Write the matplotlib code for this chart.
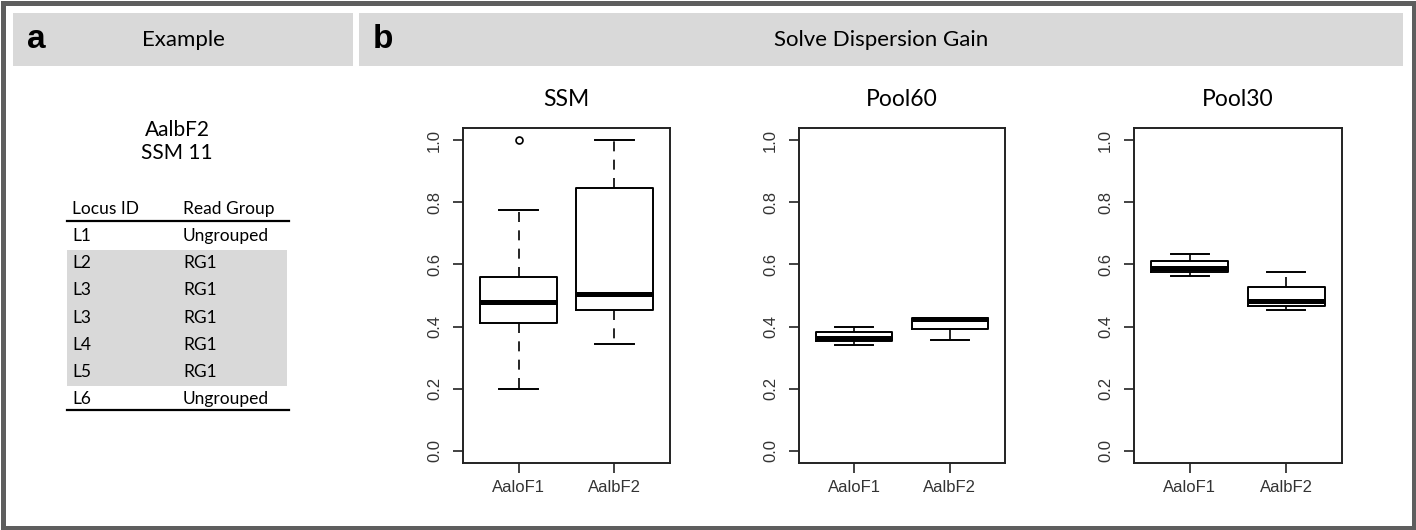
import matplotlib.pyplot as plt
import matplotlib.patches as patches
from matplotlib.lines import Line2D

# ── DATA ─────────────────────────────────────────────────────────────────────
groups = ["AaloF1", "AalbF2"]
panels = ["SSM", "Pool60", "Pool30"]

# box stats: low whisker, q1, median, q3, high whisker
ssm_low    = [0.200, 0.345]
ssm_q1     = [0.410, 0.453]
ssm_med    = [0.478, 0.506]
ssm_q3     = [0.560, 0.845]
ssm_high   = [0.775, 1.000]
ssm_out    = [[1.0], []]

pool60_low  = [0.339, 0.357]
pool60_q1   = [0.352, 0.391]
pool60_med  = [0.364, 0.423]
pool60_q3   = [0.381, 0.428]
pool60_high = [0.400, 0.428]
pool60_out  = [[], []]

pool30_low  = [0.562, 0.452]
pool30_q1   = [0.575, 0.466]
pool30_med  = [0.589, 0.483]
pool30_q3   = [0.612, 0.528]
pool30_high = [0.635, 0.577]
pool30_out  = [[], []]

yticks = [0.0, 0.2, 0.4, 0.6, 0.8, 1.0]

# example table (panel a)
example_title = ["AalbF2", "SSM 11"]
table_header = ["Locus ID", "Read Group"]
locus_ids = ["L1", "L2", "L3", "L3", "L4", "L5", "L6"]
read_groups = ["Ungrouped", "RG1", "RG1", "RG1", "RG1", "RG1", "Ungrouped"]

# ── LAYOUT HELPERS ───────────────────────────────────────────────────────────
W, H = 1416, 530
HEAD_GRAY = "#d9d9d9"
BORDER = "#5e5e5e"
INK = "#222222"


def fx(x):
    return x / W


def fy(y):
    return 1 - y / H


fig = plt.figure(figsize=(W / 100, H / 100), dpi=100)

# outer frame
fig.patches.append(patches.Rectangle((fx(2.5), fy(527.5)), fx(W - 5), (H - 5) / H,
                                     transform=fig.transFigure, fill=False,
                                     edgecolor=BORDER, linewidth=3.6))

# header bars
for x0, x1 in [(13, 353), (359, 1403)]:
    fig.patches.append(patches.Rectangle((fx(x0), fy(66)), fx(x1 - x0), 53 / H,
                                         transform=fig.transFigure,
                                         facecolor=HEAD_GRAY, edgecolor="none"))

fig.text(fx(27), fy(40), "a", fontsize=24, fontweight="bold",
         family="Liberation Sans", va="center", ha="left")
fig.text(fx(373), fy(40), "b", fontsize=24, fontweight="bold",
         family="Liberation Sans", va="center", ha="left")
fig.text(fx(183), fy(40), "Example", fontsize=16, family="Lato",
         va="center", ha="center")
fig.text(fx(881), fy(40), "Solve Dispersion Gain", fontsize=16, family="Lato",
         va="center", ha="center")

# ── PANEL A: EXAMPLE TABLE ───────────────────────────────────────────────────
fig.text(fx(177), fy(130), example_title[0], fontsize=15, family="Lato",
         ha="center", va="center")
fig.text(fx(177), fy(153), example_title[1], fontsize=15, family="Lato",
         ha="center", va="center")

col_x = [72, 183]
row0, row_step = 236, 27.2
fig.text(fx(col_x[0]), fy(209), table_header[0], fontsize=12.5, family="Lato", va="center")
fig.text(fx(col_x[1]), fy(209), table_header[1], fontsize=12.5, family="Lato", va="center")

# shade the grouped rows
rg_rows = [i for i, g in enumerate(read_groups) if g != "Ungrouped"]
top = row0 + (rg_rows[0] - 0.5) * row_step
bot = row0 + (rg_rows[-1] + 0.5) * row_step
fig.patches.append(patches.Rectangle((fx(67), fy(bot)), fx(287 - 67), (bot - top) / H,
                                     transform=fig.transFigure,
                                     facecolor=HEAD_GRAY, edgecolor="none"))

for i, (loc, rg) in enumerate(zip(locus_ids, read_groups)):
    y = row0 + i * row_step
    fig.text(fx(col_x[0]), fy(y), loc, fontsize=12.5, family="Lato", va="center")
    fig.text(fx(col_x[1]), fy(y), rg, fontsize=12.5, family="Lato", va="center")

for y in [221, 410]:
    fig.lines.append(Line2D([fx(67), fx(289)], [fy(y), fy(y)],
                            transform=fig.transFigure, color="black", linewidth=1.6))

# ── PANEL B: BOXPLOTS ────────────────────────────────────────────────────────
panel_data = {
    "SSM": (ssm_low, ssm_q1, ssm_med, ssm_q3, ssm_high, ssm_out),
    "Pool60": (pool60_low, pool60_q1, pool60_med, pool60_q3, pool60_high, pool60_out),
    "Pool30": (pool30_low, pool30_q1, pool30_med, pool30_q3, pool30_high, pool30_out),
}
axes_left = [463, 799, 1134]
axes_w = [207, 206, 208]

for name, left, width in zip(panels, axes_left, axes_w):
    ax = fig.add_axes([fx(left), fy(463), fx(width), (463 - 128) / H])
    lo, q1, med, q3, hi, out = panel_data[name]
    stats = [dict(whislo=lo[i], q1=q1[i], med=med[i], q3=q3[i], whishi=hi[i],
                  fliers=out[i], label=groups[i]) for i in range(len(groups))]
    ax.bxp(stats, positions=[1, 2], widths=0.8, capwidths=0.4,
           boxprops=dict(color="black", linewidth=1.4),
           whiskerprops=dict(color="black", linewidth=1.2, linestyle=(0, (6, 5))),
           capprops=dict(color="black", linewidth=1.4),
           medianprops=dict(color="black", linewidth=3.6, solid_capstyle="butt"),
           flierprops=dict(marker="o", markersize=5, markerfacecolor="none",
                           markeredgecolor="black", markeredgewidth=1.2))
    ax.set_xlim(0.42, 2.58)
    ax.set_ylim(-0.04, 1.04)
    ax.set_yticks(yticks)
    ax.set_yticklabels([f"{t:.1f}" for t in yticks])
    ax.set_xticks([1, 2])
    ax.set_xticklabels(groups)
    ax.tick_params(direction="out", length=7, width=1.2, colors=INK,
                   labelsize=12, pad=5)
    ax.tick_params(axis="y", labelrotation=90, pad=8)
    for lab in ax.get_yticklabels():
        lab.set_family("Liberation Sans")
        lab.set_va("center")
        lab.set_color("#333333")
    for lab in ax.get_xticklabels():
        lab.set_family("Liberation Sans")
        lab.set_color("#333333")
    for s in ax.spines.values():
        s.set_linewidth(1.4)
        s.set_color(INK)
    ax.set_title(name, fontsize=16.5, family="Lato", pad=16)

plt.savefig("out.png", dpi=100)
